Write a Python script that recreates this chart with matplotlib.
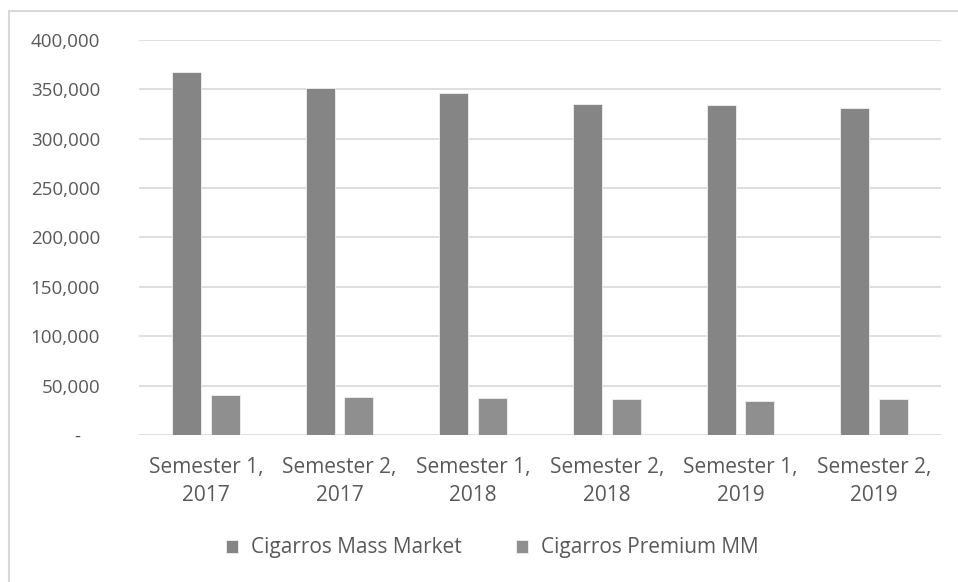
import matplotlib.pyplot as plt
import matplotlib.ticker as mticker
from matplotlib.patches import Rectangle
import numpy as np

plt.rcParams['font.family'] = ['Open Sans', 'DejaVu Sans']

# data
periods = ['Semester 1,\n2017', 'Semester 2,\n2017', 'Semester 1,\n2018',
           'Semester 2,\n2018', 'Semester 1,\n2019', 'Semester 2,\n2019']
mass_market = [367500, 351700, 346200, 335100, 333800, 331000]
premium_mm = [40600, 38900, 37200, 36200, 34800, 36200]
series_names = ['Cigarros Mass Market', 'Cigarros Premium MM']

text_col = '#595959'
grid_col = '#d9d9d9'

fig = plt.figure(figsize=(9.58, 5.82), dpi=100)
ax = fig.add_axes([139/958, 1 - 435/582, (941 - 139)/958, (435 - 40)/582])

# chart border (cropped on right/bottom like the source)
fig.patches.append(Rectangle((9/958, -0.05), 1.0, 1 - 11/582 + 0.05,
                             transform=fig.transFigure, fill=False,
                             edgecolor=grid_col, linewidth=1.5))

x = np.arange(len(periods))
w = 0.217
off = 0.145
ax.bar(x - off, mass_market, w, color='#858585', edgecolor='#f0f0f0',
       linewidth=0.6, label=series_names[0], zorder=3)
ax.bar(x + off, premium_mm, w, color='#8f8f8f', edgecolor='#f0f0f0',
       linewidth=0.6, label=series_names[1], zorder=3)

ax.set_xlim(-0.5, len(periods) - 0.5)
ax.set_ylim(0, 400000)
ax.set_yticks(np.arange(0, 400001, 50000))


def fmt(v, pos):
    if v == 0:
        return '-    '
    return f'{int(v):,}'


ax.yaxis.set_major_formatter(mticker.FuncFormatter(fmt))
ax.set_xticks(x)
ax.set_xticklabels(periods)
ax.grid(axis='y', color=grid_col, linewidth=1.2, zorder=0)
for s in ax.spines.values():
    s.set_visible(False)
ax.tick_params(axis='both', length=0, colors=text_col)
ax.tick_params(axis='y', pad=28, labelsize=13.5)
ax.tick_params(axis='x', pad=16, labelsize=15)
for lbl in ax.get_xticklabels():
    lbl.set_linespacing(1.45)

ax.legend(loc='center', bbox_to_anchor=(492/958, 1 - 548/582),
          bbox_transform=fig.transFigure, ncol=2, frameon=False,
          fontsize=15, labelcolor=text_col, handlelength=0.6,
          handleheight=0.6, columnspacing=2.6, handletextpad=0.6)

fig.savefig('out.png', dpi=100)
